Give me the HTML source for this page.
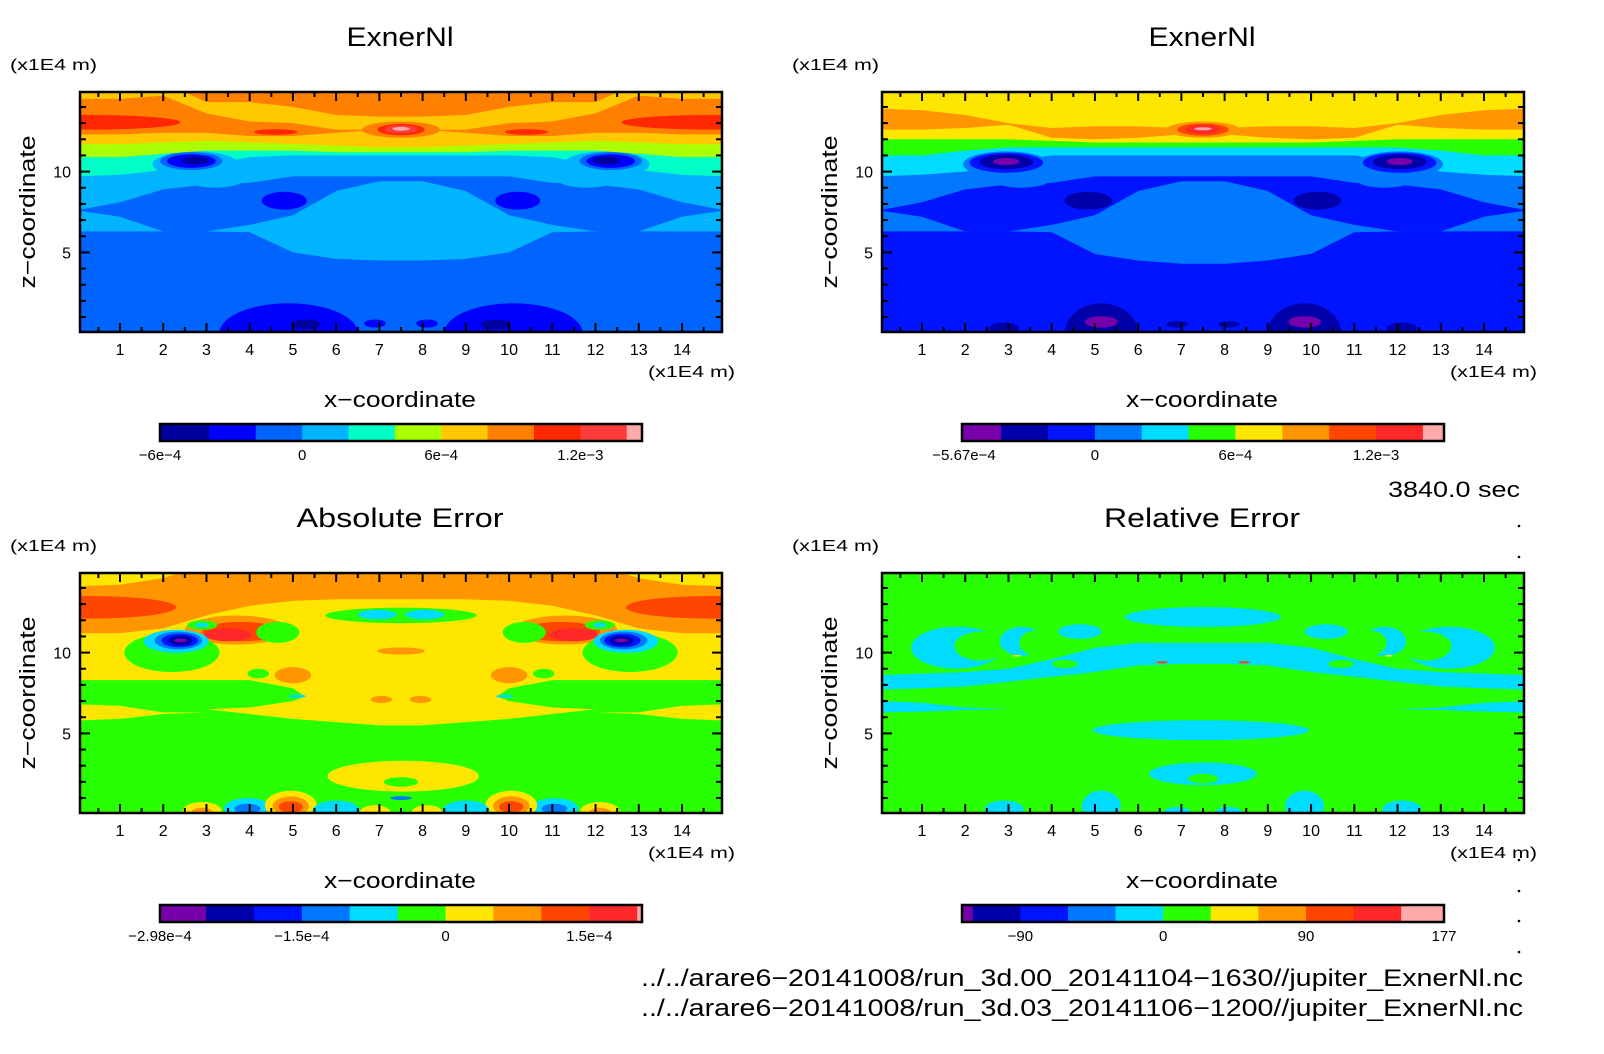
<!DOCTYPE html>
<html><head><meta charset="utf-8"><title>ExnerNl comparison</title>
<style>
html,body{margin:0;padding:0;background:#fff;}
svg{display:block;font-family:"Liberation Sans",sans-serif;}
</style></head>
<body>
<svg id="fig" width="1604" height="1054" viewBox="0 0 1604 1054" xmlns="http://www.w3.org/2000/svg">
<rect width="1604" height="1054" fill="#fff"/>
</svg>
<script>
// ---------------- data ----------------
const xTicks = [1,2,3,4,5,6,7,8,9,10,11,12,13,14];
const zTicks = [5,10];
const TOP = [15.5,15.5,15.5,15.5,15.5,15.5,15.5,15.5,15.5,15.5,15.5,15.5,15.5,15.5,15.5,15.5];
const flat63 = [6.3,6.3,6.3,6.3,6.3,6.3,6.3,6.3,6.3,6.3,6.3,6.3,6.3,6.3,6.3,6.3];
const wingLo = [7.6,7.2,6.3,6.3,6.3,6.3,6.3,6.3,6.3,6.3,6.3,6.3,6.3,6.3,7.2,7.6];
const wingHi = [7.6,8.1,8.9,9.2,9.3,9.7,9.7,9.7,9.7,9.7,9.7,9.3,9.2,8.9,8.1,7.6];
const mushLo = [6.3,6.3,6.3,6.3,6.25,5.0,4.6,4.5,4.5,4.6,5.0,6.25,6.3,6.3,6.3,6.3];
const mush2Lo = [6.3,6.3,6.3,6.3,6.25,4.9,4.5,4.3,4.3,4.5,4.9,6.25,6.3,6.3,6.3,6.3];
const mushHi = [6.3,6.3,6.3,6.3,6.7,7.3,8.8,9.4,9.4,8.8,7.3,6.7,6.3,6.3,6.3,6.3];
const p1Cyan = [9.7,9.8,10.1,10.4,10.9,11.0,11.0,11.0,11.0,11.0,11.0,10.9,10.4,10.1,9.8,9.7];
const p1Yg = [10.9,10.9,11.1,11.3,11.3,11.3,11.2,11.2,11.2,11.2,11.3,11.3,11.3,11.1,10.9,10.9];
const p1Yel = [11.7,11.7,11.8,11.9,11.8,11.7,11.6,11.5,11.5,11.6,11.7,11.8,11.9,11.8,11.7,11.7];
const p1Org = [12.3,12.3,12.4,12.4,12.2,12.2,12.4,12.6,12.6,12.4,12.2,12.2,12.4,12.4,12.3,12.3];
const p1InLo = [14.5,14.5,14.7,13.6,13.1,13.0,12.6,12.6,12.6,12.6,13.0,13.1,13.6,14.7,14.5,14.5];
const p1InHi = [15.5,15.5,15.5,14.3,14.3,14.0,13.5,13.4,13.4,13.5,14.0,14.3,14.3,15.5,15.5,15.5];
const p2Cyan = [9.7,9.8,10.0,10.6,11.0,11.0,11.0,11.0,11.0,11.0,11.0,11.0,10.6,10.0,9.8,9.7];
const p2Grn = [11.0,11.0,11.3,11.5,11.5,11.5,11.5,11.5,11.5,11.5,11.5,11.5,11.5,11.3,11.0,11.0];
const p2Yel = [12.0,12.0,12.0,12.0,11.9,11.8,11.8,11.8,11.8,11.8,11.8,11.9,12.0,12.0,12.0,12.0];
const p2OLo = [12.6,12.6,12.7,12.9,12.1,12.0,12.1,12.3,12.3,12.1,12.0,12.1,12.9,12.7,12.6,12.6];
const p2OHi = [13.9,13.8,13.5,13.0,12.7,12.8,12.8,12.7,12.7,12.8,12.8,12.7,13.0,13.5,13.8,13.9];
const p3YLo = [8.3,8.3,8.3,8.3,8.3,7.8,6.0,5.5,5.5,6.0,7.8,8.3,8.3,8.3,8.3,8.3];
const p3LobeLo = [6.5,6.5,6.5,6.5,6.2,5.9,5.7,5.5,5.5,5.7,5.9,6.2,6.5,6.5,6.5,6.5];
const p3LobeHi = [6.5,6.5,6.5,6.5,6.6,7.0,8.0,8.0,8.0,8.0,7.0,6.6,6.5,6.5,6.5,6.5];
const p3WedgeLo = [5.8,5.9,6.2,6.3,6.3,6.3,6.3,6.3,6.3,6.3,6.3,6.3,6.3,6.2,5.9,5.8];
const p3WedgeHi = [6.8,6.7,6.3,6.3,6.3,6.3,6.3,6.3,6.3,6.3,6.3,6.3,6.3,6.3,6.7,6.8];
const p3OLo = [11.2,11.2,11.5,12.3,12.9,13.2,13.3,13.3,13.3,13.3,13.2,12.9,12.3,11.5,11.2,11.2];
const p3TopYLo = [14.1,14.2,14.6,15.5,15.5,15.5,15.5,15.5,15.5,15.5,15.5,15.5,15.5,14.6,14.2,14.1];
const p4BandLo = [7.7,7.8,7.9,8.2,8.5,8.8,9.2,9.3,9.3,9.2,8.8,8.5,8.2,7.9,7.8,7.7];
const p4BandHi = [8.6,8.7,8.8,9.0,9.6,10.3,10.6,10.6,10.6,10.6,10.3,9.6,9.0,8.8,8.7,8.6];
const p4StripLo = [6.3,6.35,6.45,6.5,6.5,6.5,6.5,6.5,6.5,6.5,6.5,6.5,6.5,6.45,6.35,6.3];
const p4StripHi = [7.0,6.9,6.6,6.5,6.5,6.5,6.5,6.5,6.5,6.5,6.5,6.5,6.5,6.6,6.9,7.0];

const pal1 = ['#0000a0','#0000ff','#0064ff','#00b4ff','#00ffc8','#aaff00','#ffc800','#ff8000','#ff2800','#ff3c3c','#ffaaaa'];
const pal2 = ['#7800aa','#0000aa','#0014ff','#0078ff','#00dcff','#28ff00','#ffe600','#ff9600','#ff4600','#ff2828','#ffaaaa'];

// shapes: ['L', colorIdx, lo, hi] or ['E', x, z, rx, rz, colorIdx, mirror]
const p1Shapes = [
 ['L',3,flat63,TOP],['L',2,wingLo,wingHi],['L',3,mushLo,mushHi],
 ['E',3.2,9.6,0.7,0.6,3,1],['L',4,p1Cyan,TOP],['E',2.75,10.45,1.0,0.8,3,1],
 ['L',5,p1Yg,TOP],['L',6,p1Yel,TOP],['L',7,p1Org,TOP],['L',6,p1InLo,p1InHi],
 ['E',0.3,13.05,2.1,0.45,8,1],['E',4.6,12.45,0.5,0.18,8,1],
 ['E',7.5,12.6,0.9,0.5,7,0],['E',7.5,12.6,0.55,0.35,8,0],['E',7.5,12.62,0.38,0.25,9,0],['E',7.5,12.65,0.2,0.12,10,0],
 ['E',2.65,10.65,0.72,0.55,2,1],['E',2.65,10.65,0.56,0.42,1,1],['E',2.75,10.68,0.32,0.25,0,1],
 ['E',4.8,8.2,0.52,0.55,1,1],['E',4.9,0,1.6,1.85,1,1],['E',5.3,0.55,0.35,0.3,0,1],['E',6.9,0.6,0.25,0.25,1,1]
];
const p2Shapes = [
 ['L',3,flat63,TOP],['L',2,wingLo,wingHi],['L',3,mush2Lo,mushHi],
 ['E',3.3,9.6,0.7,0.6,3,1],['L',4,p2Cyan,TOP],['E',2.95,10.45,1.0,0.8,3,1],
 ['L',5,p2Grn,TOP],['L',6,p2Yel,TOP],['L',7,p2OLo,p2OHi],
 ['E',7.5,12.6,0.85,0.5,7,0],['E',7.5,12.6,0.6,0.38,8,0],['E',7.5,12.62,0.4,0.28,9,0],['E',7.5,12.65,0.2,0.1,10,0],
 ['E',2.95,10.55,0.85,0.62,2,1],['E',2.95,10.6,0.62,0.45,1,1],['E',2.95,10.62,0.3,0.22,0,1],
 ['E',4.85,8.2,0.55,0.55,1,1],['E',5.15,0,0.85,1.85,1,1],['E',5.15,0.7,0.38,0.35,0,1],
 ['E',2.9,0.3,0.35,0.35,1,1],['E',6.9,0.55,0.25,0.2,1,1]
];
const p3Shapes = [
 ['L',6,p3YLo,TOP],['L',6,p3LobeLo,p3LobeHi],['L',6,p3WedgeLo,p3WedgeHi],
 ['L',7,p3OLo,TOP],['L',6,p3TopYLo,TOP],
 ['E',0.3,12.8,2.0,0.7,8,1],['E',3.7,11.4,1.2,0.9,7,1],['E',3.8,11.3,0.9,0.6,8,1],['E',3.5,11.1,0.55,0.4,9,1],
 ['E',2.9,11.7,0.35,0.3,5,1],['E',2.9,11.7,0.15,0.15,4,1],
 ['E',2.2,10.0,1.1,1.2,5,1],['E',2.3,10.7,0.75,0.72,4,1],['E',2.35,10.75,0.55,0.55,3,1],
 ['E',2.38,10.75,0.42,0.42,2,1],['E',2.4,10.75,0.28,0.3,1,1],['E',2.4,10.75,0.15,0.12,0,1],
 ['E',4.65,11.25,0.5,0.65,5,1],
 ['E',7.5,12.3,1.75,0.48,5,0],['E',6.95,12.35,0.45,0.3,4,0],['E',8.05,12.35,0.45,0.3,4,0],
 ['E',7.5,10.1,0.55,0.22,7,0],['E',5.0,8.6,0.42,0.5,7,1],['E',4.2,8.7,0.25,0.3,5,1],['E',5.1,7.3,0.2,0.1,4,1],
 ['E',7.05,7.1,0.25,0.22,7,1],
 ['E',7.55,2.35,1.75,0.95,6,0],['E',7.5,2.0,0.4,0.3,5,0],['E',7.5,1.0,0.25,0.12,3,0],
 ['E',2.9,0.2,0.45,0.55,6,1],['E',2.9,0.1,0.25,0.3,7,1],
 ['E',3.95,0.35,0.55,0.65,4,1],['E',3.95,0.35,0.3,0.3,3,1],
 ['E',4.95,0.55,0.6,0.9,6,1],['E',4.95,0.5,0.42,0.6,7,1],['E',4.95,0.45,0.28,0.35,8,1],
 ['E',6.0,0.2,0.55,0.65,4,1],['E',6.9,0.15,0.35,0.4,6,1]
];
const p4Shapes = [
 ['E',7.5,12.2,1.8,0.62,4,0],['L',4,p4BandLo,p4BandHi],['L',4,p4StripLo,p4StripHi],
 ['E',1.8,10.3,1.05,1.3,4,1],['E',2.35,10.4,0.6,0.9,5,1],
 ['E',3.3,10.7,0.5,0.9,4,1],['E',3.6,10.6,0.35,0.75,5,1],
 ['E',4.65,11.3,0.5,0.45,4,1],['E',4.3,9.3,0.3,0.25,5,1],
 ['E',7.45,5.2,2.5,0.62,4,0],['E',7.5,2.5,1.25,0.7,4,0],['E',7.5,2.2,0.35,0.3,5,0],
 ['E',2.9,0.3,0.45,0.55,4,1],['E',5.15,0.5,0.45,0.95,4,1],['E',6.9,0.15,0.3,0.3,4,1],
 ['E',6.55,9.4,0.14,0.07,8,1],['E',3.2,9.8,0.1,0.05,6,1]
];

const cb1Levels = [-6.13e-4,-4e-4,-2e-4,0,2e-4,4e-4,6e-4,8e-4,1e-3,1.2e-3,1.4e-3,1.466e-3];
const cb2Levels = [-5.67e-4,-4e-4,-2e-4,0,2e-4,4e-4,6e-4,8e-4,1e-3,1.2e-3,1.4e-3,1.49e-3];
const cb3Levels = [-2.98e-4,-2.5e-4,-2e-4,-1.5e-4,-1e-4,-5e-5,0,5e-5,1e-4,1.5e-4,2e-4,2.05e-4];
const cb4Levels = [-126.8,-120,-90,-60,-30,0,30,60,90,120,150,177];
const cb1Labels = [[-6.13e-4,'-6e-4'],[0,'0'],[6e-4,'6e-4'],[1.2e-3,'1.2e-3']];
const cb2Labels = [[-5.67e-4,'-5.67e-4'],[0,'0'],[6e-4,'6e-4'],[1.2e-3,'1.2e-3']];
const cb3Labels = [[-2.98e-4,'-2.98e-4'],[-1.5e-4,'-1.5e-4'],[0,'0'],[1.5e-4,'1.5e-4']];
const cb4Labels = [[-90,'-90'],[0,'0'],[90,'90'],[177,'177']];
const cb1Colors = [0,1,2,3,4,5,6,7,8,9,10];

// ---------------- rendering ----------------
const NS = 'http://www.w3.org/2000/svg';
const svg = document.getElementById('fig');
function mk(tag, attrs, parent){ const e=document.createElementNS(NS,tag); for(const k in attrs) e.setAttribute(k,attrs[k]); (parent||svg).appendChild(e); return e; }
function txt(s, attrs, parent){ const e=mk('text',attrs,parent); e.textContent=s; return e; }
const W=642, H=240, D0=0.075, D1=14.925;

function drawPanel(id, ox, oy, pal, shapes, title, titleLen, unitX, cbLevels, cbLabels){
  const sx = x => ox + (x-D0)/(D1-D0)*W;
  const sz = z => oy + H - (z-D0)/(D1-D0)*H;
  const g = mk('g',{});
  
  
  const clip = mk('clipPath',{id:id+'-clip'}, g);
  mk('rect',{x:ox,y:oy,width:W,height:H},clip);
  const plot = mk('g',{'clip-path':'url(#'+id+'-clip)'}, g);
  const bg = mk('rect',{x:ox,y:oy,width:W,height:H,fill:pal[shapes===p1Shapes||shapes===p2Shapes?2:5]},plot);
  
  
  shapes.forEach((s,si)=>{
    if(s[0]==='L'){
      const lo=s[2], hi=s[3]; let d='';
      for(let i=0;i<lo.length;i++) d+=(i?'L':'M')+sx(i).toFixed(1)+','+sz(lo[i]).toFixed(1);
      for(let i=hi.length-1;i>=0;i--) d+='L'+sx(i).toFixed(1)+','+sz(Math.max(hi[i],lo[i])).toFixed(1);
      const p=mk('path',{d:d+'Z',fill:pal[s[1]]},plot);
      
      
    } else {
      const xs = s[6] ? [s[1], 15-s[1]] : [s[1]];
      xs.forEach(x=>{
        const e=mk('ellipse',{cx:sx(x).toFixed(1),cy:sz(s[2]).toFixed(1),rx:(s[3]/(D1-D0)*W).toFixed(1),ry:(s[4]/(D1-D0)*H).toFixed(1),fill:pal[s[5]]},plot);
        
        
      });
    }
  });
  // ticks
  const tk = mk('g',{stroke:'#000','stroke-width':2},g);
  for(let v=0.5; v<15; v+=0.5){
    const major = Math.abs(v-Math.round(v))<1e-6;
    const L = major?9:5;
    mk('line',{x1:sx(v),y1:oy,x2:sx(v),y2:oy+L},tk);
    mk('line',{x1:sx(v),y1:oy+H,x2:sx(v),y2:oy+H-L},tk);
  }
  for(let v=1; v<15; v+=1){
    const L = zTicks.includes(v)?10:6;
    mk('line',{x1:ox,y1:sz(v),x2:ox+L,y2:sz(v)},tk);
    mk('line',{x1:ox+W,y1:sz(v),x2:ox+W-L,y2:sz(v)},tk);
  }
  const fr = mk('rect',{x:ox,y:oy,width:W,height:H,fill:'none',stroke:'#000','stroke-width':2.5},g);
  
  
  xTicks.forEach(v=>{
    const t=txt(String(v),{x:sx(v),y:oy+263,'font-size':16,'text-anchor':'middle'},g);
    
    
  });
  zTicks.forEach(v=>{
    const t=txt(String(v),{x:ox-9,y:sz(v)+6,'font-size':16,'text-anchor':'end'},g);
    
    
  });
  const tt=txt(title,{x:ox+320,y:oy-46,'font-size':27,'text-anchor':'middle',textLength:titleLen,lengthAdjust:'spacingAndGlyphs'},g);
  
  
  const u1=txt('(x1E4 m)',{x:unitX,y:oy-22,'font-size':16,textLength:87,lengthAdjust:'spacingAndGlyphs'},g);
  
  
  const u2=txt('(x1E4 m)',{x:ox+568,y:oy+285,'font-size':16,textLength:87,lengthAdjust:'spacingAndGlyphs'},g);
  
  
  const xt=txt('x\u2212coordinate',{x:ox+320,y:oy+315,'font-size':22,'text-anchor':'middle',textLength:152,lengthAdjust:'spacingAndGlyphs'},g);
  
  
  const zt=txt('z\u2212coordinate',{x:0,y:0,'font-size':22,'text-anchor':'middle',textLength:153,lengthAdjust:'spacingAndGlyphs',transform:'translate('+(ox-45)+','+(oy+120)+') rotate(-90)'},g);
  
  
  // colorbar
  const cL=ox+80, cW=482, cT=oy+332, cH=17;
  const v0=cbLevels[0], v1=cbLevels[cbLevels.length-1];
  const sc = v => cL + (v-v0)/(v1-v0)*cW;
  const cb = mk('g',{},g);
  
  
  for(let i=0;i<cbLevels.length-1;i++){
    const r=mk('rect',{x:sc(cbLevels[i]),y:cT,width:sc(cbLevels[i+1])-sc(cbLevels[i])+0.5,height:cH,fill:pal[cb1Colors[i]]},cb);
    
    
  }
  mk('rect',{x:cL,y:cT,width:cW,height:cH,fill:'none',stroke:'#000','stroke-width':2.5},cb);
  cbLabels.forEach(l=>{
    const t=txt(l[1].replace(/-/g,'\u2212'),{x:sc(l[0])+(l[1]==='-5.67e-4'?2:0),y:oy+368,'font-size':15,'text-anchor':'middle'},cb);
    
    
  });
}

drawPanel('exner-run00', 80, 92, pal1, p1Shapes, 'ExnerNl', 107, 10, cb1Levels, cb1Labels);
drawPanel('exner-run03', 882, 92, pal2, p2Shapes, 'ExnerNl', 107, 792, cb2Levels, cb2Labels);
drawPanel('absolute-error', 80, 573, pal2, p3Shapes, 'Absolute Error', 207, 10, cb3Levels, cb3Labels);
drawPanel('relative-error', 882, 573, pal2, p4Shapes, 'Relative Error', 196, 792, cb4Levels, cb4Labels);

const tm=txt('3840.0 sec',{x:1520,y:497,'font-size':22,'text-anchor':'end',textLength:132,lengthAdjust:'spacingAndGlyphs'});


const f1=txt('../../arare6\u221220141008/run_3d.00_20141104\u22121630//jupiter_ExnerNl.nc',{x:641,y:986,'font-size':24,textLength:882,lengthAdjust:'spacingAndGlyphs'});


const f2=txt('../../arare6\u221220141008/run_3d.03_20141106\u22121200//jupiter_ExnerNl.nc',{x:641,y:1016,'font-size':24,textLength:882,lengthAdjust:'spacingAndGlyphs'});


[526,557,860,891,921,952].forEach(y=>{
  const d=mk('circle',{cx:1519,cy:y,r:1.3,fill:'#000'});
  
  
});
</script>
</body></html>
